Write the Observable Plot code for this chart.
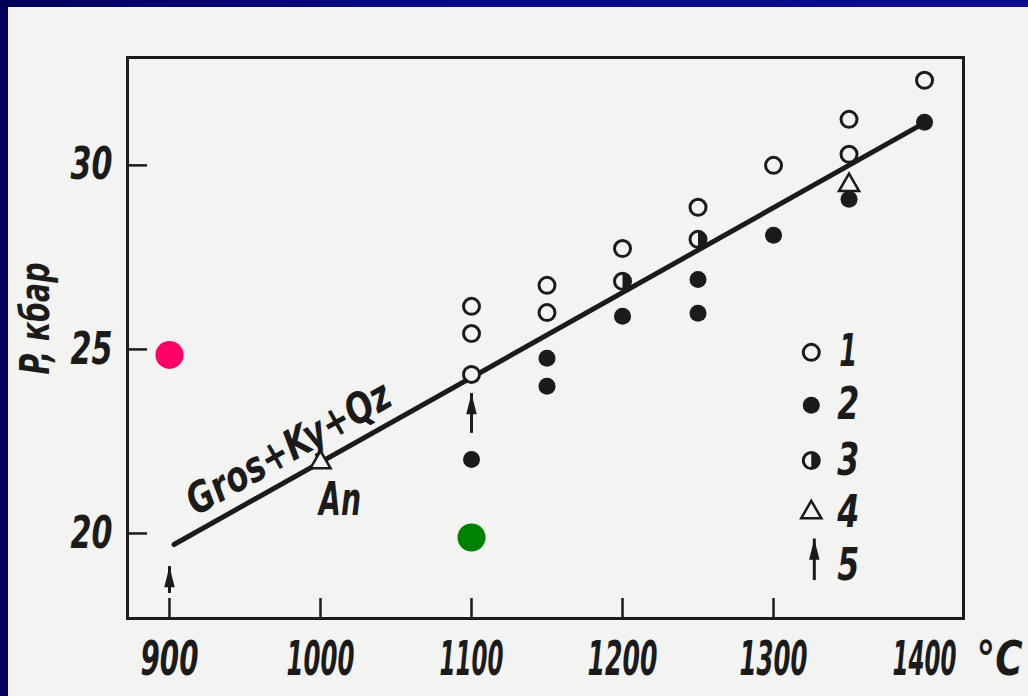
<!DOCTYPE html>
<html><head><meta charset="utf-8">
<script src="https://cdn.jsdelivr.net/npm/d3@7"></script>
<script src="https://cdn.jsdelivr.net/npm/@observablehq/plot@0.6"></script>
<style>
html,body{margin:0;padding:0;}
body{width:1028px;height:696px;overflow:hidden;position:relative;background:linear-gradient(90deg,#00005a,#0a0a86 40%,#0c0c8e);}
#wrap{position:absolute;left:8px;top:7px;width:1020px;height:689px;background:#f3f3f2;}
svg{overflow:visible;}
</style></head><body><div id="wrap"></div>
<script>
// axis ticks and labels
const tempTicks = [900, 1000, 1100, 1200, 1300];
const tempLabels = [900, 1000, 1100, 1200, 1300, 1400];
const pTicks = [20, 25, 30];

// series 1: open circles
const openT = [1100, 1100, 1100, 1150, 1150, 1200, 1250, 1300, 1350, 1350, 1400];
const openP = [26.17, 25.43, 24.32, 26.74, 26.0, 27.74, 28.86, 30.0, 31.25, 30.3, 32.31];
// series 2: filled circles
const filledT = [1100, 1150, 1150, 1200, 1250, 1250, 1300, 1350, 1400];
const filledP = [22.01, 24.76, 24.0, 25.9, 26.9, 25.98, 28.1, 29.08, 31.17];
// series 3: half-filled circles
const halfT = [1200, 1250];
const halfP = [26.85, 27.99];
// series 4: triangles
const triT = [1000, 1350];
const triP = [21.93, 29.46];
// series 5: arrows
const arrowT = [900, 1100];
const arrowFrom = [18.37, 22.72];
const arrowTo = [19.1, 23.8];
// reaction line Gros+Ky+Qz = An
const lineT = [903, 1402];
const lineP = [19.7, 31.2];
// coloured markers
const pinkT = [900], pinkP = [24.85];
const greenT = [1100], greenP = [19.89];
// annotations
const reactionLabel = ["Gros+Ky+Qz"], reactionT = [979], reactionP = [22.31];
const anLabel = ["An"], anT = [1013], anP = [20.9];
const yTitle = ["P, кбар"], yTitleP = [25.84];
// legend
const legendNames = ["1", "2", "3", "4", "5"];
const legendP = [24.92, 23.48, 21.98, 20.57, 19.13];
const legendSymT = 1325, legendLabT = 1349.5;
const legendArrowFrom = [18.72], legendArrowTo = [19.85];

const ink = "#1b1b1b";
const bg = "#f3f3f2";
const font = "'DejaVu Sans Condensed', 'DejaVu Sans', sans-serif";

const halfRight = {draw(ctx, size) { const r = Math.sqrt(size / Math.PI); ctx.moveTo(0, -r); ctx.arc(0, 0, r, -Math.PI / 2, Math.PI / 2); ctx.closePath(); }};
const arrowHead = {draw(ctx, size) { const s = Math.sqrt(size); ctx.moveTo(0, 0); ctx.lineTo(s * 0.33, s * 1.3); ctx.lineTo(-s * 0.33, s * 1.3); ctx.closePath(); }};

const idx = a => a.map((_, i) => i);
const W = 1020, H = 689, mL = 119, mT = 50, mR = 65, mB = 78;
const innerW = W - mL - mR, innerH = H - mT - mB;

const txt = {fontFamily: font, fontStyle: "italic", fontWeight: "bold", fill: ink};

const chart = Plot.plot({
  width: W, height: H,
  marginLeft: mL, marginTop: mT, marginRight: mR, marginBottom: mB,
  style: {background: "transparent", overflow: "visible"},
  x: {domain: [872.2, 1425.8], axis: null},
  y: {domain: [17.69, 32.93], axis: null},
  marks: [
    Plot.ruleX(tempTicks, {x: d => d, insetTop: innerH - 20, stroke: ink, strokeWidth: 2.5}),
    Plot.ruleY(pTicks, {y: d => d, insetRight: innerW - 20, stroke: ink, strokeWidth: 2.5}),
    Plot.frame({stroke: ink, strokeWidth: 3}),
    Plot.text(tempLabels, {x: d => d, text: d => String(d), frameAnchor: "bottom", textAnchor: "middle", lineAnchor: "middle", dy: 41, fontSize: 48, ...txt}),
    Plot.text(["°C"], {frameAnchor: "bottom-right", textAnchor: "start", lineAnchor: "middle", dx: 13, dy: 41, fontSize: 48, ...txt}),
    Plot.text(pTicks, {y: d => d, text: d => String(d), frameAnchor: "left", textAnchor: "end", dx: -15, fontSize: 44, ...txt}),
    Plot.text(yTitle, {frameAnchor: "left", textAnchor: "middle", y: yTitleP, dx: -91, rotate: -90, fontSize: 40, ...txt}),
    Plot.line(idx(lineT), {x: i => lineT[i], y: i => lineP[i], stroke: ink, strokeWidth: 5, strokeLinecap: "round"}),
    Plot.text(reactionLabel, {x: reactionT, y: reactionP, text: d => d, rotate: -29.3, fontSize: 42, ...txt}),
    Plot.text(anLabel, {x: anT, y: anP, text: d => d, fontSize: 46, ...txt}),
    Plot.dot(idx(openT), {x: i => openT[i], y: i => openP[i], r: 8, stroke: ink, strokeWidth: 3, fill: bg}),
    Plot.dot(idx(filledT), {x: i => filledT[i], y: i => filledP[i], r: 8.5, fill: ink}),
    Plot.dot(idx(halfT), {x: i => halfT[i], y: i => halfP[i], r: 8, stroke: ink, strokeWidth: 3, fill: bg}),
    Plot.dot(idx(halfT), {x: i => halfT[i], y: i => halfP[i], r: 8, symbol: halfRight, fill: ink}),
    Plot.dot(idx(triT), {x: i => triT[i], y: i => triP[i], r: 7.5, symbol: "triangle", stroke: ink, strokeWidth: 2.5, fill: bg}),
    Plot.ruleX(idx(arrowT), {x: i => arrowT[i], y1: i => arrowFrom[i], y2: i => arrowTo[i], stroke: ink, strokeWidth: 3}),
    Plot.dot(idx(arrowT), {x: i => arrowT[i], y: i => arrowTo[i], r: 9, symbol: arrowHead, fill: ink}),
    // legend
    Plot.dot([legendP[0]], {x: () => legendSymT, y: d => d, r: 8, stroke: ink, strokeWidth: 3, fill: bg}),
    Plot.dot([legendP[1]], {x: () => legendSymT, y: d => d, r: 8.5, fill: ink}),
    Plot.dot([legendP[2]], {x: () => legendSymT, y: d => d, r: 8, stroke: ink, strokeWidth: 3, fill: bg}),
    Plot.dot([legendP[2]], {x: () => legendSymT, y: d => d, r: 8, symbol: halfRight, fill: ink}),
    Plot.dot([legendP[3]], {x: () => legendSymT, y: d => d, r: 7.5, symbol: "triangle", stroke: ink, strokeWidth: 2.5, fill: bg}),
    Plot.ruleX([0], {x: () => legendSymT + 2, y1: legendArrowFrom, y2: legendArrowTo, stroke: ink, strokeWidth: 3}),
    Plot.dot([0], {x: () => legendSymT + 2, y: legendArrowTo, r: 9, symbol: arrowHead, fill: ink}),
    Plot.text(idx(legendNames), {x: () => legendLabT, y: i => legendP[i], text: i => legendNames[i], fontSize: 44, ...txt}),
    // coloured markers
    Plot.dot(pinkT, {x: d => d, y: pinkP, r: 14, fill: "#ff0066"}),
    Plot.dot(greenT, {x: d => d, y: greenP, r: 14, fill: "#008000"})
  ]
});

document.getElementById("wrap").appendChild(chart);
const widths = {"900": 58, "1000": 68, "1100": 64, "1200": 70, "1300": 68, "1400": 64, "°C": 46,
  "20": 42, "25": 42, "30": 42, "P, кбар": 112, "Gros+Ky+Qz": 228, "An": 42,
  "1": 18, "2": 22, "3": 22, "4": 22, "5": 22};
d3.select(chart).selectAll("text").each(function () {
  const s = this.textContent;
  if (widths[s] != null) {
    this.setAttribute("textLength", widths[s]);
    this.setAttribute("lengthAdjust", "spacingAndGlyphs");
  }
});
</script>
</body></html>
